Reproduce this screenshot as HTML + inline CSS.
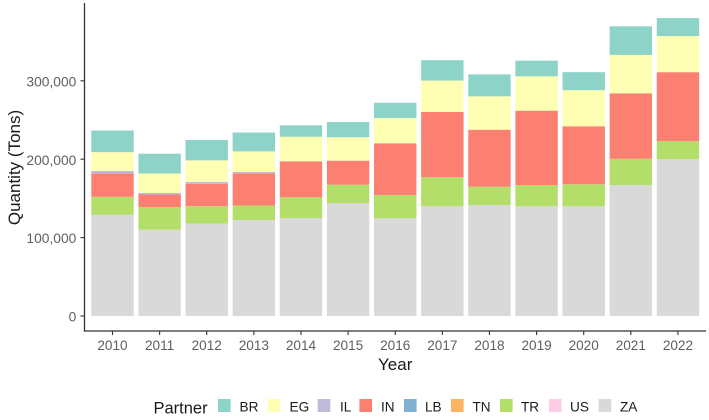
<!DOCTYPE html>
<html>
<head>
<meta charset="utf-8">
<title>Quantity by Partner</title>
<style>
html,body{margin:0;padding:0;background:#fff;width:709px;height:420px;overflow:hidden}
svg{display:block;font-family:"Liberation Sans",Arial,sans-serif;filter:blur(0.35px)}
</style>
</head>
<body>
<svg id="chart" width="709" height="420" viewBox="0 0 709 420" xmlns="http://www.w3.org/2000/svg"></svg>
<script>
const years = [2010,2011,2012,2013,2014,2015,2016,2017,2018,2019,2020,2021,2022];
const partners = ["BR","EG","IL","IN","LB","TN","TR","US","ZA"];
const BR = [27600,25300,26000,24000,14500,19400,19500,26000,28000,20000,23000,36500,23000];
const EG = [24000,24700,27500,26300,31400,29900,32200,40000,42600,43800,46000,49000,46000];
const IL = [3000,2000,2500,1700,0,0,0,0,0,0,0,0,0];
const IN = [30000,16000,28500,41000,45900,30600,66000,83300,72700,94900,74000,83500,88000];
const LB = [0,0,0,0,0,0,0,0,0,0,0,0,0];
const TN = [0,0,0,0,0,0,0,0,0,0,0,0,0];
const TR = [23000,29000,22000,18500,26400,23400,29700,37000,23300,27000,28000,33500,23000];
const US = [0,0,0,0,0,0,0,0,0,0,0,0,0];
const ZA = [129000,110000,118000,122500,125000,144100,124600,140000,141600,140000,140000,167000,200000];
const yTicks = [0,100000,200000,300000];
const yTickLabels = ["0","100,000","200,000","300,000"];

const seriesValues = [BR,EG,IL,IN,LB,TN,TR,US,ZA];
const colors = ["#8dd3c7","#ffffb3","#bebada","#fb8072","#80b1d3","#fdb462","#b3de69","#fccde5","#d9d9d9"];
const legendSwatchX = [218,267.7,317.7,359.4,404,451,500,549,598.6];
const legendLabelX = [239.5,289.5,340,381,425,472.5,521,570,620];

const svg = document.getElementById('chart');
const NS = 'http://www.w3.org/2000/svg';
function add(tag, attrs, text){
  const el = document.createElementNS(NS, tag);
  for (const k in attrs) el.setAttribute(k, attrs[k]);
  if (text !== undefined) el.textContent = text;
  svg.appendChild(el);
  return el;
}
const xScale = i => 112.5 + i * 47.12;
const yScale = v => 316 - v * 0.000784;
const barW = 42.4;

/* bars: stacked with the first partner on top */
years.forEach((yr, i) => {
  let cum = 0;
  for (let s = partners.length - 1; s >= 0; s--) {
    const v = seriesValues[s][i];
    if (v <= 0) continue;
    const y1 = yScale(cum), y2 = yScale(cum + v);
    const r = add('rect', {x: xScale(i) - barW / 2, y: y2, width: barW, height: y1 - y2, fill: colors[s]});
    
    
    cum += v;
  }
});

/* axes */
const yLine = add('line', {x1: 84.5, y1: 3, x2: 84.5, y2: 331.5, stroke: '#333', 'stroke-width': 1.3});


const xLine = add('line', {x1: 83.9, y1: 331, x2: 706, y2: 331, stroke: '#333', 'stroke-width': 1.3});



yTicks.forEach((t, i) => {
  const y = yScale(t);
  const m = add('line', {x1: 80.5, y1: y, x2: 84, y2: y, stroke: '#333', 'stroke-width': 1.1});
  
  
  const l = add('text', {x: 76.3, y: y + 5.6, 'text-anchor': 'end', 'font-size': 13.8, fill: '#5f5f5f'}, yTickLabels[i]);
  
  
});
years.forEach((yr, i) => {
  const x = xScale(i);
  const m = add('line', {x1: x, y1: 331.5, x2: x, y2: 335, stroke: '#333', 'stroke-width': 1.1});
  
  
  const l = add('text', {x: x, y: 350, 'text-anchor': 'middle', 'font-size': 13.6, fill: '#5f5f5f'}, String(yr));
  
  
});

/* axis titles */
const xTitle = add('text', {x: 395.2, y: 370, 'text-anchor': 'middle', 'font-size': 17, fill: '#1a1a1a'}, 'Year');


const yTitle = add('text', {x: 0, y: 0, transform: 'translate(20,167.5) rotate(-90)', 'text-anchor': 'middle', 'font-size': 17, fill: '#1a1a1a'}, 'Quantity (Tons)');



/* legend */
const legendTitle = add('text', {x: 153.5, y: 413.3, 'font-size': 16.5, fill: '#1a1a1a'}, 'Partner');


partners.forEach((p, i) => {
  const sw = add('rect', {x: legendSwatchX[i], y: 399, width: 12.6, height: 13, fill: colors[i]});
  
  
  const l = add('text', {x: legendLabelX[i], y: 411.5, 'font-size': 13.6, fill: '#1a1a1a'}, p);
  
  
});
</script>
</body>
</html>
